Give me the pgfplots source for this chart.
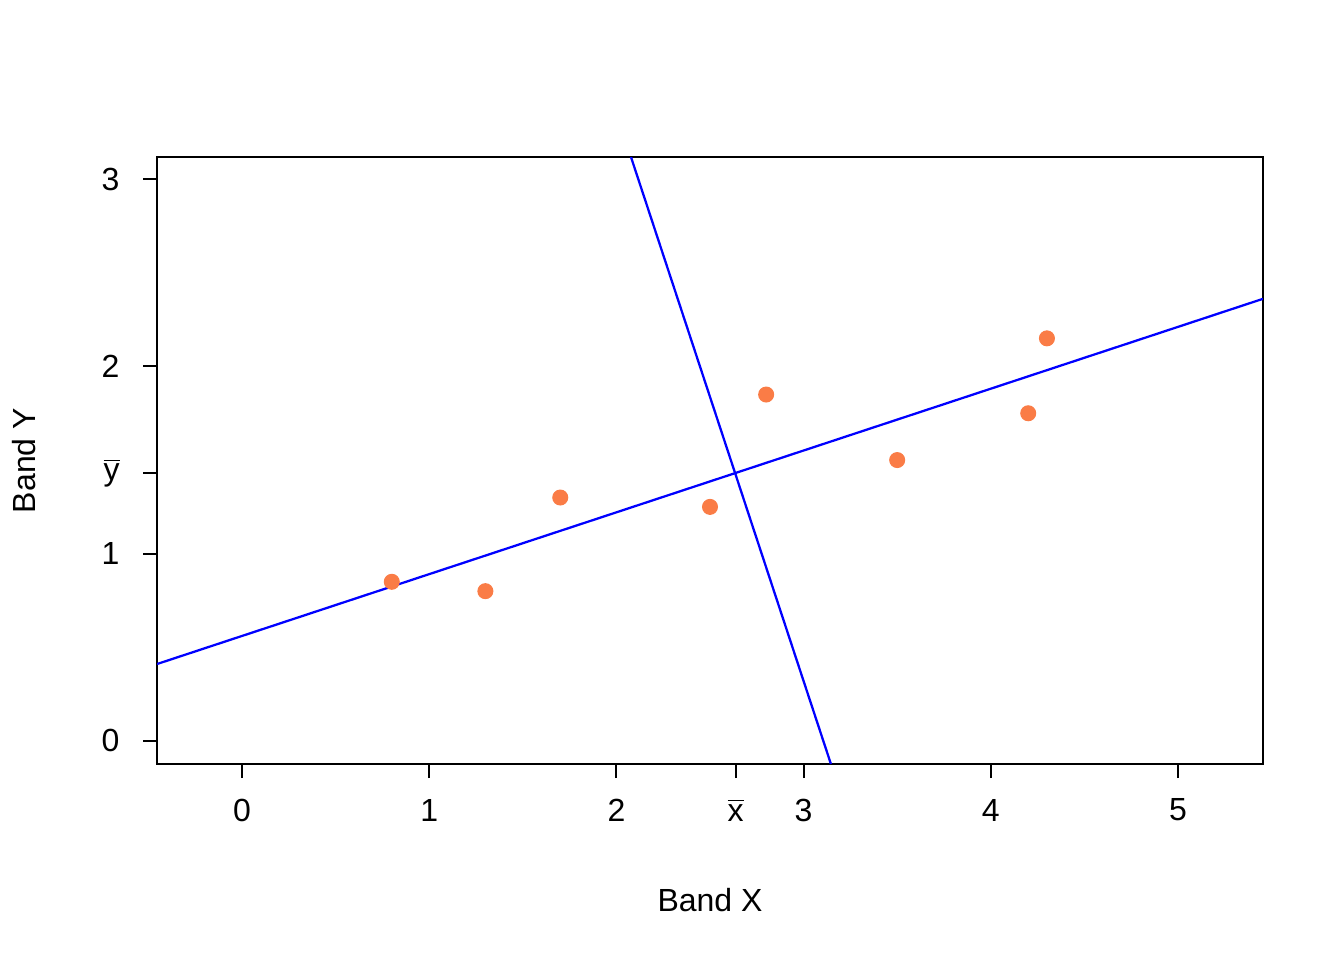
\documentclass[border=0pt]{standalone}
\usepackage{pgfplots}
\pgfplotsset{compat=1.18}
\usepackage{fontspec}
\setmainfont{Liberation Sans}
\definecolor{ptcol}{RGB}{250,124,70}
\begin{document}
\begin{tikzpicture}
\begin{axis}[
  scale only axis,
  width=414.7pt, height=227.6pt,
  xmin=-0.454, xmax=5.454,
  ymin=-0.123, ymax=3.118,
  axis line style={line width=0.75pt},
  tick style={line width=0.75pt, black},
  tick align=outside,
  major tick length=5.25pt,
  xtick={0,1,2,2.6375,3,4,5},
  xticklabels={0,1,2,{$\overline{\hbox{x}}$},3,4,5},
  ytick={0,1,1.43125,2,3},
  yticklabels={0,1,{$\overline{\hbox{y}}$},2,3},
  xtick pos=bottom, ytick pos=left,
  /pgf/number format/assume math mode=true,
  ticklabel style={font=\fontsize{12}{14}\selectfont},
  xticklabel style={anchor=center, yshift=-12pt},
  yticklabel style={anchor=east, xshift=-5.3pt},
  label style={font=\fontsize{12}{14}\selectfont},
  xlabel={Band X},
  ylabel={Band Y},
  xlabel style={at={(axis description cs:0.5,0)}, anchor=center, yshift=-51pt},
  ylabel style={at={(axis description cs:0,0.5)}, anchor=center, yshift=49.8pt},
  clip=true,
]
\addplot[only marks, mark=*, mark size=2.8pt, draw=ptcol, fill=ptcol] coordinates {
  (0.8,0.85) (1.3,0.80) (1.7,1.30) (2.5,1.25) (2.8,1.85) (3.5,1.50) (4.2,1.75) (4.3,2.15)
};
\addplot[blue, line width=0.85pt] coordinates {(-0.454,0.411) (5.454,2.361)};
\addplot[blue, line width=0.85pt] coordinates {(2.078,3.118) (3.146,-0.123)};
\end{axis}
\path[use as bounding box] (-58.9pt,-73.5pt) rectangle (445.1pt,286.5pt);
\end{tikzpicture}
\end{document}
